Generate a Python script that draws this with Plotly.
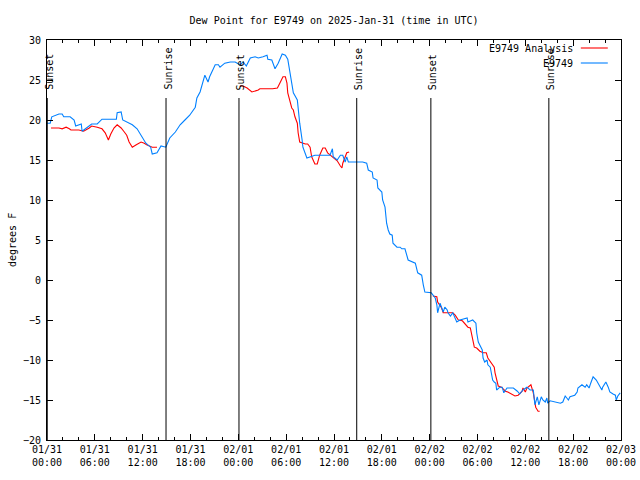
import plotly.graph_objects as go
import pandas as pd

# ---------------- data ----------------
start = pd.Timestamp("2025-01-31 00:00")

# E9749 observations: hours since 2025-01-31 00:00 UTC, dew point (F)
obs_hours = [0.0, 0.4, 0.6, 1.5, 1.9, 2.1, 2.9, 3.4, 3.6, 4.3, 4.4, 5.0, 5.6, 6.3, 6.9, 8.0, 8.7, 8.8,
             9.3, 9.5, 10.0, 10.7, 11.3, 11.8, 12.4, 13.0, 13.2, 13.8, 14.3, 14.9, 15.4, 16.1, 16.7,
             17.3, 17.9, 18.6, 18.8, 19.2, 19.6, 19.8, 20.2, 20.4, 21.1, 21.5, 21.7, 22.3, 23.0, 23.6,
             24.2, 24.6, 25.0, 25.2, 25.5, 26.1, 26.5, 27.1, 27.6, 27.7, 28.2, 28.6, 29.0, 29.5, 29.9,
             30.2, 30.5, 30.9, 31.4, 31.5, 31.7, 32.0, 32.1, 32.6, 33.0, 33.6, 35.5, 35.8, 35.9, 36.4,
             36.8, 37.1, 37.4, 37.6, 37.8, 38.9, 39.6, 40.1, 40.3, 40.8, 40.9, 41.4, 41.5, 42.0, 42.1,
             42.4, 42.5, 42.6, 42.8, 43.0, 43.3, 43.4, 43.9, 44.3, 44.5, 44.9, 45.3, 46.2, 46.5, 47.0,
             47.2, 47.4, 48.2, 48.7, 48.9, 49.0, 49.3, 49.5, 49.7, 49.9, 50.2, 50.3, 50.6, 50.9, 51.2,
             51.4, 51.8, 52.7, 52.8, 53.4, 53.8, 53.9, 54.1, 54.3, 54.6, 54.7, 54.9, 55.2, 55.3, 55.6,
             55.8, 55.9, 56.1, 56.3, 56.4, 56.8, 57.1, 57.3, 57.7, 58.5, 59.0, 59.3, 59.7, 60.2, 60.6,
             61.0, 61.2, 61.5, 61.7, 62.0, 62.2, 62.5, 62.7, 62.8, 63.1, 63.7, 64.4, 64.7, 65.0, 65.2,
             65.4, 65.6, 66.2, 66.5, 66.6, 67.1, 67.5, 67.7, 68.0, 68.2, 68.5, 68.9, 69.1, 69.6, 69.7,
             70.1, 70.4, 70.6, 71.0, 71.3, 71.4, 71.6, 71.9]
obs_dewpt = [19.6, 19.6, 20.4, 20.75, 20.75, 20.4, 20.4, 20.0, 19.25, 19.5, 18.6, 19.1, 19.5, 19.5, 20.1,
             20.1, 20.1, 20.9, 21.0, 20.0, 19.75, 19.4, 18.9, 18.0, 17.1, 16.6, 15.75, 15.9, 16.75, 16.6,
             17.75, 18.5, 19.4, 20.0, 20.6, 21.6, 22.75, 23.5, 25.0, 25.6, 24.75, 25.4, 26.9, 26.9, 26.6,
             27.1, 27.25, 27.25, 26.9, 27.25, 26.75, 27.1, 27.75, 27.9, 27.75, 27.9, 28.1, 27.6, 27.5,
             26.4, 27.1, 28.25, 28.1, 27.6, 25.9, 23.4, 22.5, 21.25, 19.6, 17.5, 16.6, 15.25, 15.4, 15.6,
             15.6, 16.4, 15.4, 15.0, 15.6, 15.6, 14.75, 15.4, 14.75, 14.75, 14.75, 14.6, 13.75, 13.5,
             12.75, 12.5, 11.5, 11.0, 10.0, 9.1, 8.1, 7.1, 6.25, 5.75, 5.6, 4.6, 4.1, 4.1, 3.9, 3.9, 2.5,
             2.1, 0.9, 0.6, -0.6, -1.5, -1.6, -2.25, -3.1, -4.1, -2.9, -3.5, -4.0, -3.4, -3.75, -4.1,
             -4.5, -4.1, -4.75, -5.25, -5.0, -4.75, -5.25, -5.0, -5.4, -6.6, -7.75, -8.1, -8.75, -9.75,
             -10.25, -10.0, -10.6, -10.9, -11.9, -12.5, -12.75, -12.9, -13.75, -13.4, -13.4, -14.1,
             -13.5, -13.5, -13.9, -14.25, -13.75, -13.4, -13.75, -13.75, -15.6, -14.6, -15.6, -14.6,
             -15.0, -15.25, -14.75, -15.4, -15.1, -15.25, -15.4, -15.25, -14.5, -14.75, -15.0, -14.6,
             -14.4, -14.0, -13.5, -13.1, -13.4, -13.1, -13.5, -12.9, -12.1, -12.5, -12.9, -13.75, -13.4,
             -12.75, -13.4, -14.0, -14.25, -14.4, -15.0, -14.5, -14.1]

# E9749 Analysis (None marks the gaps between analysis runs)
ana_hours = [0.5, 1.5, 1.9, 2.4, 2.8, 3.0, 4.0, 4.4, 4.6, 5.3, 5.6, 6.3, 6.9, 7.3, 7.7, 8.0, 8.4, 8.8,
             9.3, 9.7, 10.0, 10.3, 10.7, 11.2, 11.5, 11.8, 12.2, 12.5, 13.2, 13.8,
             14.0,
             24.2, 24.6, 25.1, 25.7, 26.5, 26.7, 28.3, 28.9, 29.2, 29.6, 29.9, 30.1, 30.2, 30.5, 30.7,
             30.9, 31.1, 31.4, 31.5, 31.7, 32.0, 32.4, 32.7, 33.0, 33.2, 33.6, 33.9, 34.2, 34.6, 34.9,
             35.2, 35.8, 36.4, 36.8, 37.0, 37.1, 37.6, 37.9,
             38.0,
             48.4, 48.9, 49.0, 49.5, 49.7, 50.9, 51.2, 51.6, 52.1, 52.4, 52.8, 53.1, 53.3, 53.6, 53.9,
             54.3, 54.7, 55.1, 55.3, 55.8, 56.1, 56.2, 56.4, 56.6, 57.0, 57.5, 57.8, 58.3, 58.7, 59.1,
             59.6, 59.7, 60.0, 60.2, 60.5, 60.7, 61.0, 61.1, 61.3, 61.6, 61.8]
ana_dewpt = [19.0, 19.0, 18.9, 19.1, 18.9, 18.75, 18.75, 18.6, 18.6, 19.0, 19.25, 19.1, 18.9, 18.4, 17.5,
             18.25, 19.0, 19.4, 19.0, 18.5, 18.1, 17.25, 16.6, 16.9, 17.1, 17.25, 17.1, 16.9, 16.6, 16.6,
             None,
             24.25, 24.25, 24.0, 23.5, 23.75, 23.9, 23.9, 24.0, 24.6, 25.4, 25.4, 24.6, 23.4, 22.25, 21.5,
             21.25, 20.4, 19.6, 18.4, 17.25, 17.1, 17.0, 17.0, 16.6, 15.4, 14.5, 14.5, 15.6, 16.5, 16.5,
             15.9, 15.4, 14.9, 14.25, 14.0, 14.6, 15.9, 16.0,
             None,
             -2.0, -2.1, -2.75, -3.5, -4.1, -4.1, -4.4, -5.0, -5.1, -5.4, -5.9, -6.0, -7.1, -8.4, -8.5,
             -8.9, -9.1, -9.1, -9.75, -10.4, -10.9, -11.6, -12.5, -13.25, -13.4, -13.9, -14.0, -14.25,
             -14.5, -14.4, -13.9, -13.5, -14.0, -13.5, -13.25, -13.1, -14.1, -14.9, -15.9, -16.4, -16.4]

# Sun events (hours since start)
sun_labels = ["Sunset", "Sunrise", "Sunset", "Sunrise", "Sunset", "Sunrise"]
sun_hours = [0.03, 14.93, 24.08, 38.85, 48.15, 62.95]

# Axis ticks
xtick_hours = [0, 6, 12, 18, 24, 30, 36, 42, 48, 54, 60, 66, 72]
xtick_labels = ["01/31<br>00:00", "01/31<br>06:00", "01/31<br>12:00", "01/31<br>18:00",
                "02/01<br>00:00", "02/01<br>06:00", "02/01<br>12:00", "02/01<br>18:00",
                "02/02<br>00:00", "02/02<br>06:00", "02/02<br>12:00", "02/02<br>18:00",
                "02/03<br>00:00"]
ytick_vals = [-20, -15, -10, -5, 0, 5, 10, 15, 20, 25, 30]

series_names = ["E9749 Analysis", "E9749"]
series_colors = ["#ff0000", "#0080ff"]

# ---------------- figure ----------------
def to_time(hours):
    return [start + pd.Timedelta(hours=h) for h in hours]

FONT = "DejaVu Sans Mono"

fig = go.Figure()
fig.add_trace(go.Scatter(x=to_time(ana_hours), y=ana_dewpt, mode="lines", name=series_names[0],
                         line=dict(color=series_colors[0], width=1.1), connectgaps=False))
fig.add_trace(go.Scatter(x=to_time(obs_hours), y=obs_dewpt, mode="lines", name=series_names[1],
                         line=dict(color=series_colors[1], width=1.1)))

# sunrise / sunset markers
for lab, h in zip(sun_labels, sun_hours):
    t = start + pd.Timedelta(hours=h)
    fig.add_shape(type="line", xref="x", yref="y", x0=t, x1=t, y0=-20, y1=22.75,
                  line=dict(color="black", width=1))
    fig.add_annotation(x=t, xref="x", y=0.87, yref="paper", text=lab, textangle=-90,
                       showarrow=False, xanchor="center", yanchor="bottom", xshift=1.5,
                       font=dict(family=FONT, size=10, color="black"))

# gnuplot-style legend: text on the left, sample line on the right
for i, (nm, col) in enumerate(zip(series_names, series_colors)):
    ypos = 1 - (8 + 15 * i) / 400
    fig.add_annotation(x=0.919, xref="paper", y=ypos, yref="paper", text=nm, showarrow=False,
                       xanchor="right", yanchor="middle",
                       font=dict(family=FONT, size=10, color="black"))
    fig.add_shape(type="line", xref="paper", yref="paper", x0=0.93, x1=0.977, y0=ypos, y1=ypos,
                  line=dict(color=col, width=1.1))

# y-axis title as an annotation so it does not move the plot area
fig.add_annotation(x=-35 / 574, xref="paper", y=0.5, yref="paper", text="degrees F", textangle=-90,
                   showarrow=False, xanchor="center", yanchor="middle",
                   font=dict(family=FONT, size=10, color="black"))

fig.update_layout(
    width=640, height=480,
    margin=dict(l=47, r=19, t=40, b=40, autoexpand=False),
    paper_bgcolor="white", plot_bgcolor="white",
    showlegend=False,
    font=dict(family=FONT, size=10, color="black"),
    title=dict(text="Dew Point for E9749 on 2025-Jan-31 (time in UTC)", x=0.522, xanchor="center",
               xref="container", yref="container",
               y=1 - 20 / 480, yanchor="middle", font=dict(family=FONT, size=10, color="black")),
)
fig.update_xaxes(
    type="date", automargin=False,
    range=[start, start + pd.Timedelta(hours=72)],
    tickmode="array", tickvals=to_time(xtick_hours), ticktext=xtick_labels,
    ticks="inside", ticklen=6, tickcolor="black",
    minor=dict(ticks="inside", ticklen=3, dtick=2 * 3600 * 1000, tickcolor="black"),
    showline=True, linecolor="black", linewidth=1, mirror="ticks",
    showgrid=False, zeroline=False,
)
fig.update_yaxes(
    range=[-20, 30], tickmode="array", tickvals=ytick_vals, automargin=False,
    ticks="inside", ticklen=6, tickcolor="black",
    showline=True, linecolor="black", linewidth=1, mirror="ticks",
    showgrid=False, zeroline=False,
    ticklabelstandoff=3,
)

fig.write_html("out.html", config={"displayModeBar": False},
               post_script="document.body.style.margin='0px';document.body.style.overflow='hidden';")
